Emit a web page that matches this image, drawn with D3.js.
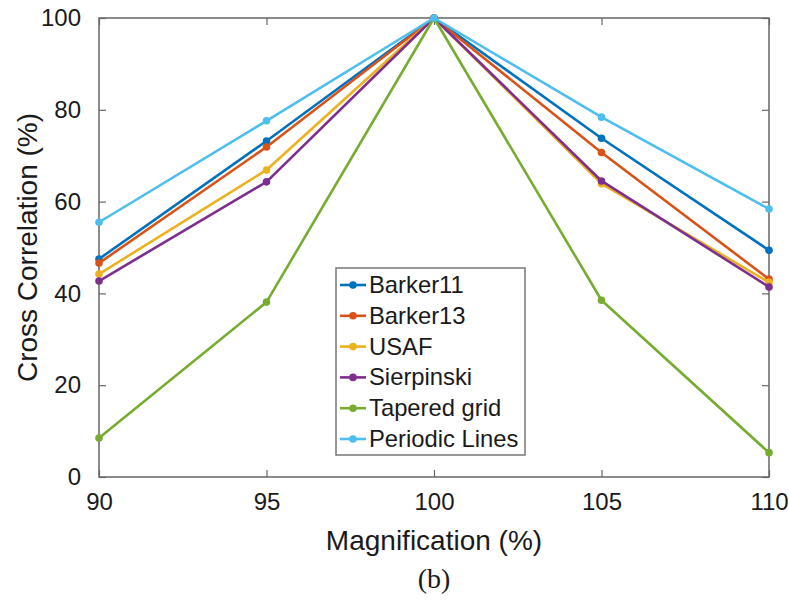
<!DOCTYPE html>
<html>
<head>
<meta charset="utf-8">
<script src="https://cdn.jsdelivr.net/npm/d3@7"></script>
<style>
  body { margin: 0; background: #fff; }
  text { font-family: "Liberation Sans", Arial, sans-serif; fill: #1a1a1a; }
  .tick line { stroke: #666; stroke-width: 1.2; }
  .tick text { font-size: 24px; }
</style>
</head>
<body>
<div id="chart"></div>
<script>
var magnification = [90, 95, 100, 105, 110];
var seriesNames = ["Barker11", "Barker13", "USAF", "Sierpinski", "Tapered grid", "Periodic Lines"];
var barker11 = [47.5, 73.2, 100, 73.8, 49.4];
var barker13 = [46.6, 71.9, 100, 70.7, 43.1];
var usaf = [44.2, 66.9, 100, 63.9, 42.4];
var sierpinski = [42.7, 64.3, 100, 64.5, 41.4];
var tapered = [8.5, 38.1, 100, 38.5, 5.3];
var periodic = [55.5, 77.6, 100, 78.4, 58.4];
var colors = ["#0072BD", "#D95319", "#EDB120", "#7E2F8E", "#77AC30", "#4DBEEE"];
var yTicks = [0, 20, 40, 60, 80, 100];

var allSeries = [barker11, barker13, usaf, sierpinski, tapered, periodic];

var width = 789, height = 602;
var plotLeft = 99, plotRight = 769, plotTop = 18, plotBottom = 477;

var svg = d3.select("#chart").append("svg")
    .attr("width", width)
    .attr("height", height);

var x = d3.scaleLinear().domain([90, 110]).range([plotLeft, plotRight]);
var y = d3.scaleLinear().domain([0, 100]).range([plotBottom, plotTop]);

// axes with inward ticks
svg.append("g")
    .attr("transform", "translate(" + plotLeft + ",0)")
    .call(d3.axisLeft(y).tickValues(yTicks).tickSizeInner(-7).tickSizeOuter(0).tickPadding(18))
    .call(g => g.select(".domain").remove());
svg.append("g")
    .attr("transform", "translate(" + plotRight + ",0)")
    .call(d3.axisRight(y).tickValues(yTicks).tickSizeInner(-7).tickSizeOuter(0).tickFormat(""))
    .call(g => g.select(".domain").remove());
svg.append("g")
    .attr("transform", "translate(0," + plotBottom + ")")
    .call(d3.axisBottom(x).tickValues(magnification).tickSizeInner(-7).tickSizeOuter(0).tickPadding(16))
    .call(g => g.select(".domain").remove());
svg.append("g")
    .attr("transform", "translate(0," + plotTop + ")")
    .call(d3.axisTop(x).tickValues(magnification).tickSizeInner(-7).tickSizeOuter(0).tickFormat(""))
    .call(g => g.select(".domain").remove());

svg.append("rect")
    .attr("x", plotLeft).attr("y", plotTop)
    .attr("width", plotRight - plotLeft).attr("height", plotBottom - plotTop)
    .attr("fill", "none").attr("stroke", "#666").attr("stroke-width", 1.5);

// lines
var line = d3.line()
    .x((d, i) => x(magnification[i]))
    .y(d => y(d));

allSeries.forEach(function (s, k) {
    svg.append("path")
        .datum(s)
        .attr("d", line)
        .attr("fill", "none")
        .attr("stroke", colors[k])
        .attr("stroke-width", 2.6)
        .attr("stroke-linejoin", "round");
    svg.append("g").selectAll("circle")
        .data(s)
        .join("circle")
        .attr("cx", (d, i) => x(magnification[i]))
        .attr("cy", d => y(d))
        .attr("r", 3.8)
        .attr("fill", colors[k]);
});

// axis labels
svg.append("text")
    .attr("x", (plotLeft + plotRight) / 2)
    .attr("y", 550)
    .attr("text-anchor", "middle")
    .style("font-size", "28px")
    .text("Magnification (%)");

svg.append("text")
    .attr("transform", "translate(37," + (plotTop + plotBottom) / 2 + ") rotate(-90)")
    .attr("text-anchor", "middle")
    .style("font-size", "28px")
    .text("Cross Correlation (%)");

svg.append("text")
    .attr("x", (plotLeft + plotRight) / 2)
    .attr("y", 588)
    .attr("text-anchor", "middle")
    .style("font-family", "'Liberation Serif', 'Times New Roman', serif")
    .style("font-size", "28px")
    .text("(b)");

// legend
var legend = svg.append("g");
legend.append("rect")
    .attr("x", 336).attr("y", 268)
    .attr("width", 189).attr("height", 187)
    .attr("fill", "#fff").attr("stroke", "#777").attr("stroke-width", 1.5);

var rows = legend.selectAll("g.row")
    .data(seriesNames)
    .join("g")
    .attr("class", "row")
    .attr("transform", (d, i) => "translate(0," + (285 + i * 30.8) + ")");
rows.append("line")
    .attr("x1", 340).attr("x2", 366)
    .attr("stroke", (d, i) => colors[i]).attr("stroke-width", 2.6);
rows.append("circle")
    .attr("cx", 353).attr("r", 3.8)
    .attr("fill", (d, i) => colors[i]);
rows.append("text")
    .attr("x", 369).attr("y", 8)
    .style("font-size", "23.8px")
    .text(d => d);
</script>
</body>
</html>
